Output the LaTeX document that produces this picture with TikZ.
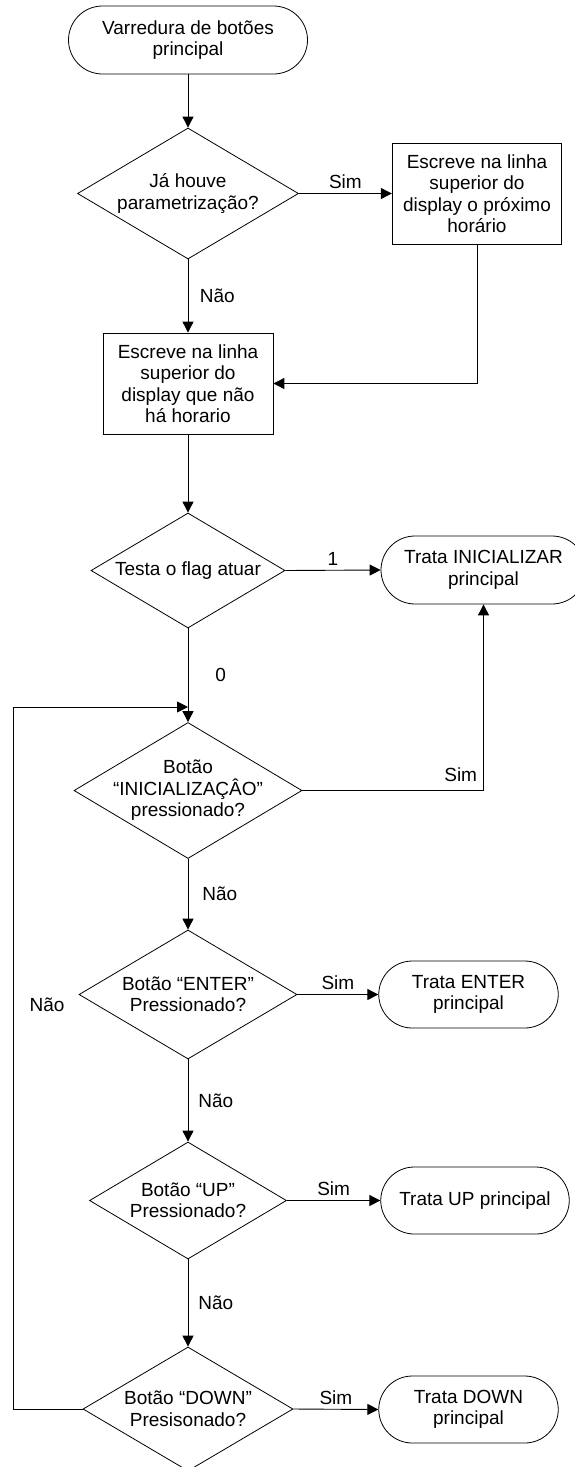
\documentclass[tikz,border=0pt]{standalone}
\usepackage{fontspec}
\setmainfont{Liberation Sans}
\usetikzlibrary{shapes.geometric,shapes.misc,arrows.meta,positioning}

\begin{document}
\begin{tikzpicture}[x=1pt,y=-1pt,
  every node/.style={font=\fontsize{19}{21.5}\selectfont},
  terminal/.style={draw, rounded rectangle, inner sep=0pt, align=center, line width=0.8pt},
  process/.style={draw, rectangle, inner sep=0pt, align=center, line width=0.8pt},
  decision/.style={draw, diamond, inner sep=0pt, line width=0.8pt},
  dtext/.style={align=center, inner sep=0pt},
  flow/.style={line width=0.9pt, -{Triangle[length=11pt,width=11pt]}},
  tag/.style={inner sep=0pt}]

\useasboundingbox (0,0) rectangle (574,1467);

% main column
\node[terminal, minimum width=239pt, minimum height=68pt] (start) at (188,40)
  {Varredura de botões\\principal};
\node[decision, minimum width=221pt, minimum height=131pt,
  label={[dtext]center:Já houve\\parametrização?}] (d1) at (188,193.5) {};
\node[process, minimum width=169.5pt, minimum height=101pt] (b1) at (477,193.5)
  {Escreve na linha\\superior do\\display o próximo\\horário};
\node[process, minimum width=170pt, minimum height=101pt] (b2) at (188,383.5)
  {Escreve na linha\\superior do\\display que não\\há horario};
\node[decision, minimum width=194pt, minimum height=115pt,
  label={[dtext]center:Testa o flag atuar}] (d3) at (188,570.5) {};
\node[terminal, minimum width=205pt, minimum height=68pt] (tini) at (483.5,570)
  {Trata INICIALIZAR\\principal};
\node[decision, minimum width=228pt, minimum height=136pt,
  label={[dtext]center:Botão\\“INICIALIZAÇÂO”\\pressionado?}] (d4) at (188,790.5) {};
\node[decision, minimum width=218pt, minimum height=129pt,
  label={[dtext]center:Botão “ENTER”\\Pressionado?}] (d5) at (188,994.5) {};
\node[terminal, minimum width=179.5pt, minimum height=67pt] (tenter) at (468.5,994.5)
  {Trata ENTER\\principal};
\node[decision, minimum width=197pt, minimum height=117pt,
  label={[dtext]center:Botão “UP”\\Pressionado?}] (d6) at (188,1200.5) {};
\node[terminal, minimum width=188.5pt, minimum height=67pt] (tup) at (475,1200.5)
  {Trata UP principal};
\node[decision, minimum width=210pt, minimum height=124pt,
  label={[dtext]center:Botão “DOWN”\\Presisonado?}] (d7) at (188,1409) {};
\node[terminal, minimum width=179.5pt, minimum height=67pt] (tdown) at (468.5,1409.5)
  {Trata DOWN\\principal};

% loop helpers
\coordinate (loopin) at (188,707);
\coordinate (loopx) at (13.2,1409);

% connectors
\draw[flow] (start.south) -- (d1.north);
\draw[flow] (d1.east) -- node[tag, above=4.5pt] {Sim} (b1.west);
\draw[flow] (d1.south) -- node[tag, right=11.5pt] {Não} (b2.north);
\draw[flow] (b1.south) |- (b2.east);
\draw[flow] (b2.south) -- (d3.north);
\draw[flow] (d3.east) -- node[tag, above=4.5pt] {1} (tini.west);
\draw[flow] (d3.south) -- node[tag, right=27pt] {0} (d4.north);
\draw[flow] (d4.east) -| node[tag, above left=8.5pt and 6pt] {Sim} (tini.south);
\draw[flow] (d4.south) -- node[tag, right=14pt] {Não} (d5.north);
\draw[flow] (d5.east) -- node[tag, above=4.7pt] {Sim} (tenter.west);
\draw[flow] (d5.south) -- node[tag, right=10pt] {Não} (d6.north);
\draw[flow] (d6.east) -- node[tag, above=4.7pt] {Sim} (tup.west);
\draw[flow] (d6.south) -- node[tag, right=10pt] {Não} (d7.north);
\draw[flow] (d7.east) -- node[tag, above=4.2pt] {Sim} (tdown.west);
\draw[flow] (d7.west) -- (loopx) |- node[pos=0.288, tag, right=16pt] {Não} (loopin);

\end{tikzpicture}
\end{document}
